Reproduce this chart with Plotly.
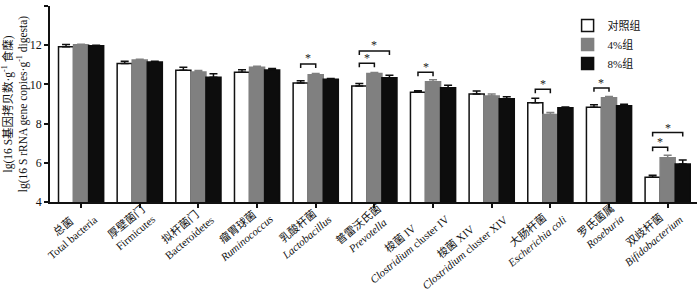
import plotly.graph_objects as go

categories = [
    "总菌<br>Total bacteria",
    "厚壁菌门<br>Firmicutes",
    "拟杆菌门<br>Bacteroidetes",
    "瘤胃球菌<br><i>Ruminococcus</i>",
    "乳酸杆菌<br><i>Lactobacillus</i>",
    "普雷沃氏菌<br><i>Prevotella</i>",
    "梭菌 IV<br><i>Clostridium</i> cluster IV",
    "梭菌 XIV<br><i>Clostridium</i> cluster XIV",
    "大肠杆菌<br><i>Escherichia coli</i>",
    "罗氏菌属<br><i>Roseburia</i>",
    "双歧杆菌<br><i>Bifidobacterium</i>",
]
series_names = ["对照组", "4%组", "8%组"]
control = [11.92, 11.06, 10.72, 10.62, 10.07, 9.92, 9.60, 9.51, 9.07, 8.83, 5.26]
g4 = [12.02, 11.24, 10.63, 10.87, 10.49, 10.55, 10.14, 9.41, 8.47, 9.32, 6.26]
g8 = [11.97, 11.14, 10.36, 10.73, 10.26, 10.34, 9.83, 9.27, 8.81, 8.91, 5.94]
control_se = [0.12, 0.12, 0.15, 0.13, 0.11, 0.12, 0.08, 0.15, 0.22, 0.13, 0.10]
g4_se = [0.03, 0.04, 0.08, 0.05, 0.06, 0.06, 0.10, 0.10, 0.10, 0.06, 0.13]
g8_se = [0.03, 0.04, 0.18, 0.08, 0.04, 0.13, 0.13, 0.10, 0.04, 0.08, 0.20]
# significance: (category index, group a, group b, bracket level, star level)
sig = [
    (4, 0, 1, 11.04, 11.35),
    (5, 0, 1, 11.08, 11.35),
    (5, 0, 2, 11.70, 12.00),
    (6, 0, 1, 10.62, 10.90),
    (8, 0, 1, 9.75, 10.02),
    (9, 0, 1, 9.82, 10.09),
    (10, 0, 1, 6.79, 7.08),
    (10, 0, 2, 7.54, 7.79),
]

FONT = "Liberation Serif, Times New Roman, Noto Sans CJK SC, serif"
fills = ["#ffffff", "#808080", "#0d0d0d"]
lines = ["#111111", "#808080", "#0d0d0d"]
vals = [control, g4, g8]
ses = [control_se, g4_se, g8_se]
x = list(range(len(categories)))
bargap = 0.23

fig = go.Figure()
for k in range(3):
    fig.add_trace(go.Bar(
        x=x, y=vals[k], name=series_names[k],
        marker=dict(color=fills[k], line=dict(color=lines[k], width=1.5)),
        error_y=dict(type="data", array=ses[k], arrayminus=[0] * len(x), symmetric=False,
                     color=lines[k], thickness=1.5, width=4),
    ))

bw = (1 - bargap) / 3
shapes = []
annotations = []
for (i, a, b, yl, ys) in sig:
    xa = i + (a - 1) * bw
    xb = i + (b - 1) * bw
    shapes.append(dict(type="path", xref="x", yref="y",
                       path=f"M {xa},{yl-0.2} L {xa},{yl} L {xb},{yl} L {xb},{yl-0.2}",
                       line=dict(color="#111", width=1.5)))
    annotations.append(dict(x=(xa + xb) / 2, y=ys, xref="x", yref="y", text="*",
                            showarrow=False, font=dict(size=12, color="#222", family=FONT)))

# rotated two-line category labels, centred lines, block's top-right pinned at the tick
for i, lab in zip(x, categories):
    annotations.append(dict(x=i, y=0, xref="x", yref="paper", text=lab,
                            textangle=-40, xanchor="right", yanchor="top",
                            xshift=19, yshift=2, align="center", showarrow=False,
                            borderpad=0,
                            font=dict(size=11, family=FONT, color="#111")))

fig.update_layout(
    width=700, height=290,
    margin=dict(l=50, r=3, t=6, b=88),
    paper_bgcolor="white", plot_bgcolor="white",
    barmode="group", bargap=bargap, bargroupgap=0,
    font=dict(family=FONT, size=12, color="#111"),
    shapes=shapes, annotations=annotations,
    legend=dict(x=0.80, y=0.975, xanchor="left", yanchor="top",
                font=dict(size=11, family=FONT), bgcolor="rgba(0,0,0,0)",
                tracegroupgap=0, itemwidth=30),
    showlegend=True,
)
fig.update_xaxes(
    range=[-0.53, 10.5], tickmode="array", tickvals=x, showticklabels=False,
    ticks="outside", ticklen=4, tickwidth=1.5, tickcolor="#111",
    showline=True, linecolor="#111", linewidth=1.5, showgrid=False,
    zeroline=False, automargin=False,
)
fig.update_yaxes(
    range=[4, 14], dtick=2, ticks="outside", ticklen=4, tickwidth=1.5, tickcolor="#111",
    showline=True, linecolor="#111", linewidth=1.5, showgrid=False, zeroline=False,
    tickfont=dict(size=12, family=FONT), automargin=False,
    title=dict(text="lg(16 S基因拷贝数·g<sup>-1</sup> 食糜)<br>lg(16 S rRNA gene copies·g<sup>-1</sup> digesta)",
               font=dict(size=11.5, family=FONT), standoff=6),
)
fig.write_html("out.html", post_script="document.body.style.margin='0';",
               config={"displayModeBar": False})
